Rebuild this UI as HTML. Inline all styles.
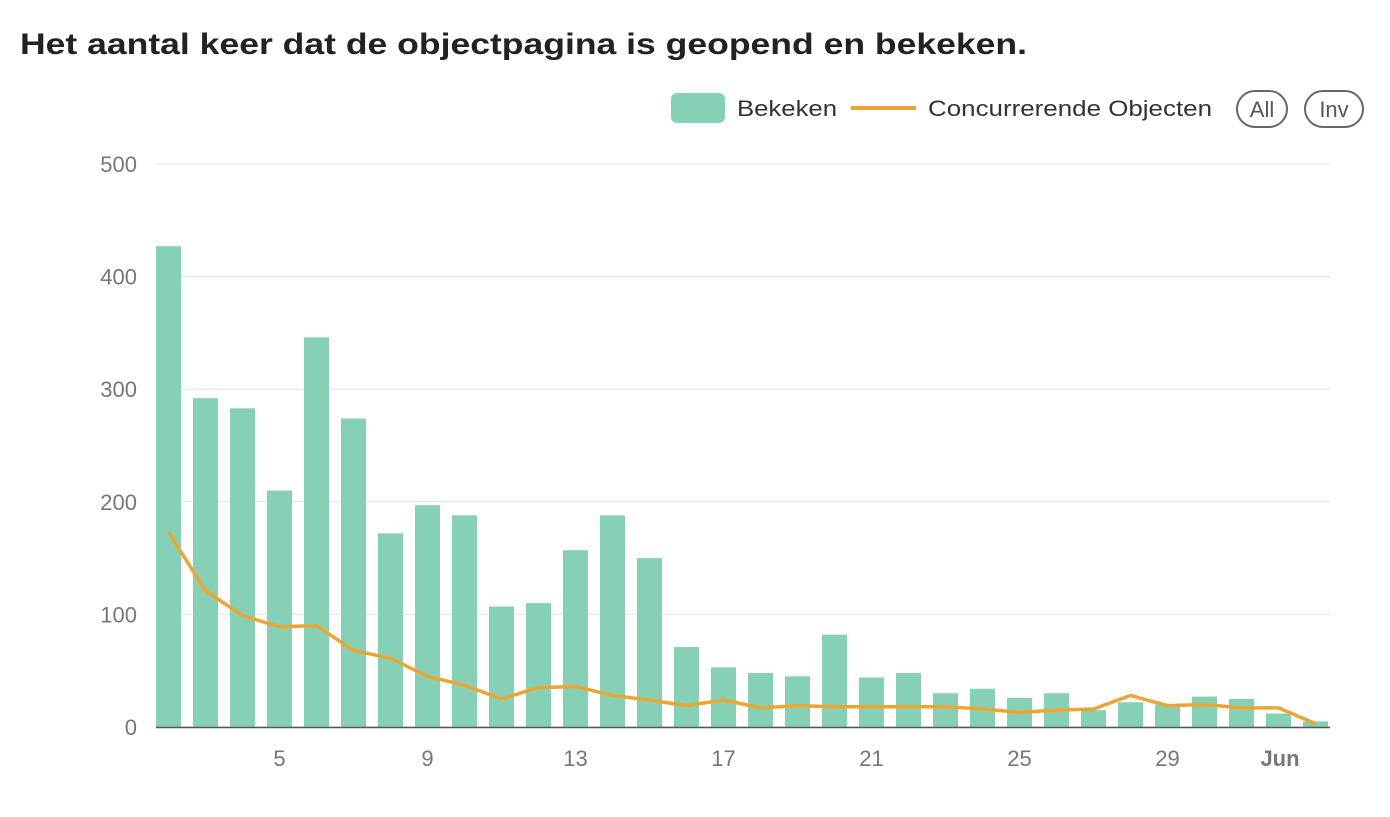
<!DOCTYPE html>
<html><head><meta charset="utf-8"><style>
body{margin:0;background:#fff;width:1390px;height:812px;overflow:hidden;font-family:"Liberation Sans",sans-serif}
</style></head><body>
<svg id="s" width="1390" height="812" xmlns="http://www.w3.org/2000/svg" font-family="Liberation Sans, sans-serif">
<text x="20" y="54" font-size="30" font-weight="bold" fill="#222" textLength="1007" lengthAdjust="spacingAndGlyphs">Het aantal keer dat de objectpagina is geopend en bekeken.</text>
<rect x="671" y="93" width="54" height="30" rx="6" fill="#86d1b5"/>
<text x="737" y="116" font-size="22" fill="#333" textLength="100" lengthAdjust="spacingAndGlyphs">Bekeken</text>
<line x1="851" y1="108" x2="916" y2="108" stroke="#eba535" stroke-width="4"/>
<text x="928" y="116" font-size="22" fill="#333" textLength="284" lengthAdjust="spacingAndGlyphs">Concurrerende Objecten</text>
<rect x="1237" y="91" width="50" height="36" rx="18" fill="none" stroke="#666" stroke-width="2"/>
<text x="1262" y="117" font-size="22" fill="#555" text-anchor="middle">All</text>
<rect x="1305" y="91" width="58" height="36" rx="18" fill="none" stroke="#666" stroke-width="2"/>
<text x="1334" y="117" font-size="22" fill="#555" text-anchor="middle">Inv</text>
<g id="g"></g>
</svg>
<script>
var g=document.getElementById('g'),h='';
function Y(v){return 727-v*1.126;}
for(var i=0;i<=5;i++){var y=Y(i*100);h+='<line x1="156" x2="1330" y1="'+y+'" y2="'+y+'" stroke="#e0e0ee" stroke-width="1"/>';h+='<text x="137" y="'+(y+8)+'" font-size="22" fill="#777" text-anchor="end">'+(i*100)+'</text>';}
var b=[427,292,283,210,346,274,172,197,188,107,110,157,188,150,71,53,48,45,82,44,48,30,34,26,30,15,22,20,27,25,12,5];
var l=[173,121,99,89,90,68,61,45,37,25,35,36,28,24,19,24,17,19,18,18,18,18,16,13,15,16,28,19,20,17,17,3];
var pts=[];
for(var k=0;k<b.length;k++){var c=168.5+37*k;var x=c-12.5,w=25;if(x+w>1330)w=1330-x;h+='<rect x="'+x+'" y="'+Y(b[k])+'" width="'+w+'" height="'+(b[k]*1.126)+'" fill="#86d1b5"/>';pts.push(c+','+Y(l[k]));}
h+='<line x1="156" x2="1330" y1="727.5" y2="727.5" stroke="#555" stroke-width="1.5"/>';
h+='<polyline points="'+pts.join(' ')+'" fill="none" stroke="#eba535" stroke-width="3.5" stroke-linejoin="round"/>';
var t=[[5,'5'],[9,'9'],[13,'13'],[17,'17'],[21,'21'],[25,'25'],[29,'29']];
t.forEach(function(a){var c=168.5+37*(a[0]-2);h+='<text x="'+c+'" y="766" font-size="22" fill="#777" text-anchor="middle">'+a[1]+'</text>';});
h+='<text x="1280" y="766" font-size="22" font-weight="bold" fill="#777" text-anchor="middle">Jun</text>';
g.innerHTML=h;
</script>
</body></html>
